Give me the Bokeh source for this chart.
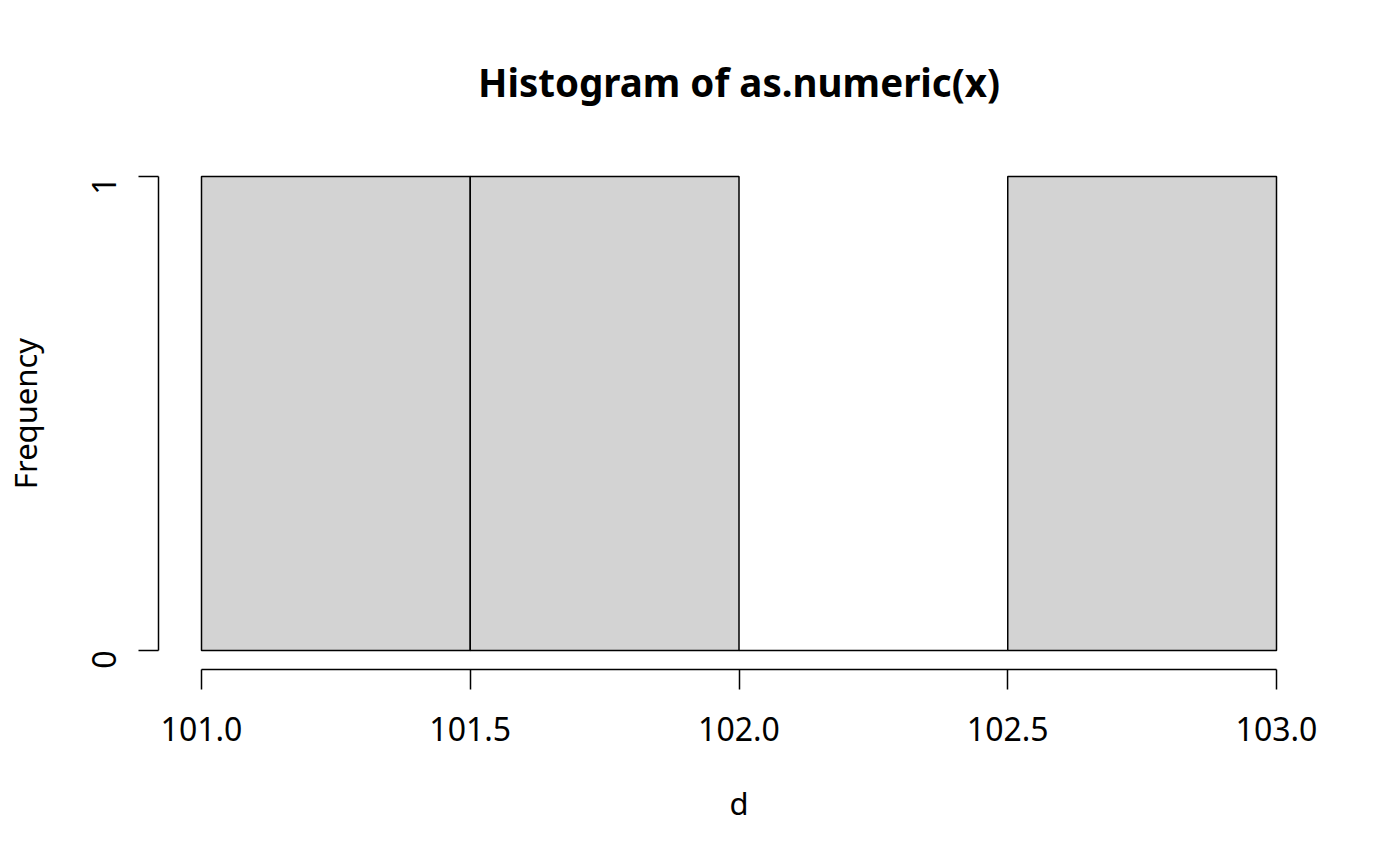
from bokeh.plotting import figure
from bokeh.models import Range1d, FixedTicker, PrintfTickFormatter, ColumnDataSource
from bokeh.embed import file_html
from bokeh.resources import INLINE
import math

# Data
breaks = [101.0, 101.5, 102.0, 102.5, 103.0]
counts = [1, 1, 0, 1]
x_ticks = [101.0, 101.5, 102.0, 102.5, 103.0]
y_ticks = [0, 1]
title_text = "Histogram of as.numeric(x)"
x_label = "d"
y_label = "Frequency"

FONT = "Noto Sans"

src = ColumnDataSource(dict(
    left=breaks[:-1], right=breaks[1:], top=counts, bottom=[0] * len(counts)
))

xspan = breaks[-1] - breaks[0]
yspan = max(counts)
p = figure(
    width=1384, height=850,
    x_range=Range1d(breaks[0] - 0.04 * xspan, breaks[-1] + 0.04 * xspan),
    y_range=Range1d(-0.04 * yspan, yspan * 1.04),
    output_backend="svg", toolbar_location=None,
    min_border_left=157, min_border_right=65, min_border_top=157, min_border_bottom=181,
)
p.outline_line_color = None
p.xgrid.visible = False
p.ygrid.visible = False
p.background_fill_color = "white"
p.border_fill_color = "white"

p.quad(left="left", right="right", top="top", bottom="bottom", source=src,
       fill_color="#D3D3D3", line_color="black", line_width=1.5)

# Title
p.title.text = title_text
p.title.align = "center"
p.title.text_font = FONT
p.title.text_font_size = "38.5px"
p.title.text_font_style = "bold"
p.title.text_color = "black"
p.title.standoff = 99

for ax in (p.xaxis[0], p.yaxis[0]):
    ax.axis_line_width = 1.5
    ax.major_tick_line_width = 1.5
    ax.axis_line_color = "black"
    ax.major_tick_line_color = "black"
    ax.major_tick_out = 20
    ax.major_tick_in = 0
    ax.minor_tick_out = 0
    ax.minor_tick_in = 0
    ax.major_label_text_font = FONT
    ax.major_label_text_font_size = "32px"
    ax.major_label_text_color = "black"
    ax.axis_label_text_font = FONT
    ax.axis_label_text_font_size = "31px"
    ax.axis_label_text_font_style = "normal"
    ax.axis_label_text_color = "black"

xa = p.xaxis[0]
xa.ticker = FixedTicker(ticks=x_ticks)
xa.formatter = PrintfTickFormatter(format="%.1f")
xa.bounds = (x_ticks[0], x_ticks[-1])
xa.axis_label = x_label
xa.major_label_standoff = 27
xa.axis_label_standoff = 38

ya = p.yaxis[0]
ya.ticker = FixedTicker(ticks=y_ticks)
ya.formatter = PrintfTickFormatter(format="%d")
ya.bounds = (y_ticks[0], y_ticks[-1])
ya.major_label_orientation = math.pi / 2
ya.axis_label = y_label
ya.major_label_standoff = 34
ya.axis_label_standoff = 32

open("out.html", "w").write(file_html(p, INLINE))
